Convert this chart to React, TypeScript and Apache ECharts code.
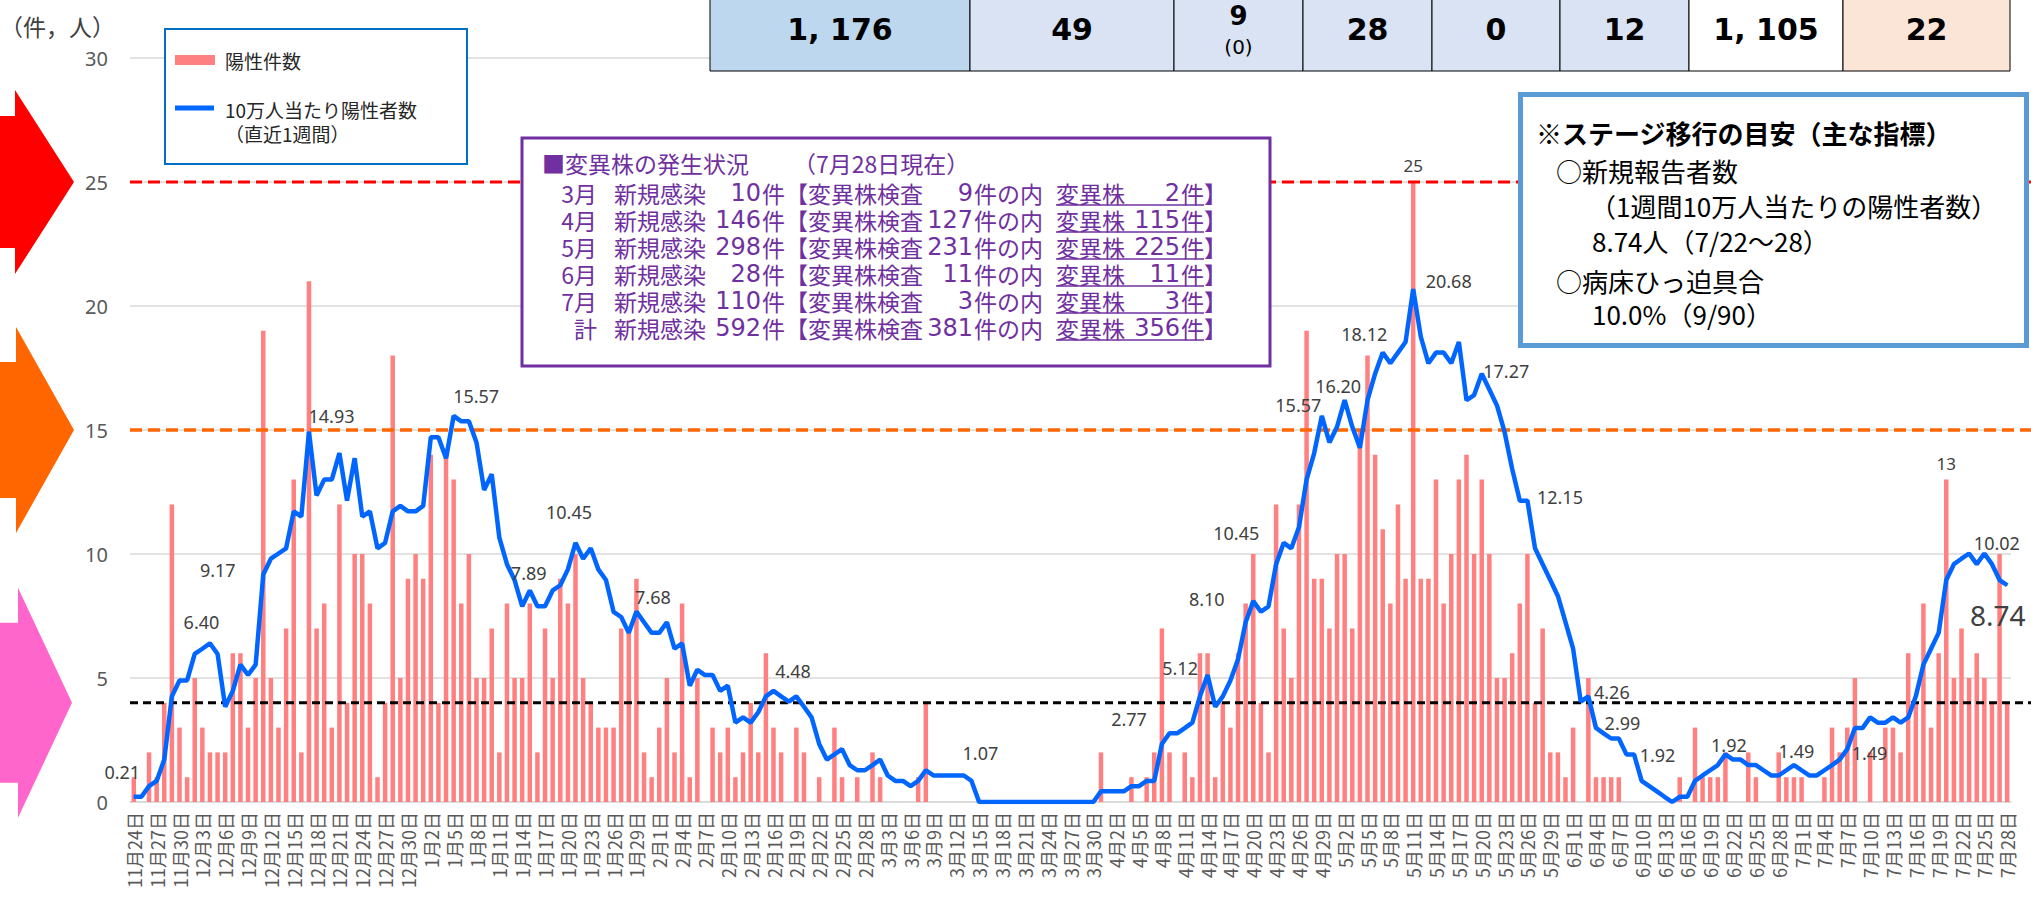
import React, { useEffect, useRef } from "react";
import * as echarts from "echarts";

// ---------- categories ----------
const MONTH_SPANS: number[][] = [
  [11, 24, 30], [12, 1, 31], [1, 1, 31], [2, 1, 28], [3, 1, 31],
  [4, 1, 30], [5, 1, 31], [6, 1, 30], [7, 1, 28],
];
const categories: string[] = MONTH_SPANS.flatMap(([m, a, b]) =>
  Array.from({ length: b - a + 1 }, (_, k) => `${m}月${a + k}日`)
);

// ---------- 陽性件数 (daily cases) ----------
const casesNov = [1, 0, 2, 1, 4, 12, 3];
const casesDec = [1, 5, 3, 2, 2, 2, 6, 6, 3, 5, 19, 5, 3, 7, 13, 2, 21, 7, 8, 3, 12, 4, 10, 10, 8, 1, 4, 18, 5, 9, 10];
const casesJan = [9, 14, 4, 14, 13, 8, 10, 5, 5, 7, 2, 8, 5, 5, 8, 2, 7, 5, 9, 8, 10, 5, 4, 3, 3, 3, 7, 7, 9, 2, 1];
const casesFeb = [3, 5, 2, 8, 1, 5, 0, 3, 2, 3, 1, 2, 4, 2, 6, 3, 2, 0, 3, 2, 0, 1, 0, 3, 1, 0, 1, 0];
const casesMar = [2, 1, 0, 0, 0, 0, 1, 4, 0, 0, 0, 0, 0, 0, 0, 0, 0, 0, 0, 0, 0, 0, 0, 0, 0, 0, 0, 0, 0, 0, 2];
const casesApr = [0, 0, 0, 1, 0, 1, 2, 7, 2, 0, 2, 1, 6, 6, 1, 4, 3, 6, 8, 10, 4, 2, 12, 7, 5, 12, 19, 9, 9, 7];
const casesMay = [10, 10, 7, 15, 18, 14, 11, 8, 12, 9, 25, 9, 9, 13, 8, 10, 13, 14, 10, 13, 10, 5, 5, 6, 8, 10, 4, 7, 2, 2, 1];
const casesJun = [3, 0, 5, 1, 1, 1, 1, 0, 0, 0, 0, 0, 0, 0, 1, 0, 3, 1, 1, 1, 2, 0, 0, 2, 1, 0, 0, 2, 1, 1];
const casesJul = [1, 0, 0, 1, 3, 2, 3, 5, 0, 2, 0, 3, 3, 2, 6, 4, 8, 3, 6, 13, 5, 7, 5, 6, 5, 4, 10, 4];

// ---------- 10万人当たり陽性者数（直近1週間） ----------
const rateNov = [0.21, 0.21, 0.64, 0.85, 1.71, 4.26, 4.90];
const rateDec = [4.90, 5.97, 6.18, 6.40, 5.97, 3.84, 4.48, 5.54, 5.12, 5.54, 9.17, 9.81, 10.02, 10.23, 11.72, 11.51, 14.93, 12.36, 13.00, 13.00, 14.07, 12.15, 13.86, 11.51, 11.72, 10.23, 10.45, 11.72, 11.94, 11.72, 11.72];
const rateJan = [11.94, 14.71, 14.71, 13.86, 15.57, 15.35, 15.35, 14.50, 12.58, 13.22, 10.66, 9.59, 8.95, 7.89, 8.53, 7.89, 7.89, 8.53, 8.74, 9.38, 10.45, 9.81, 10.23, 9.38, 8.95, 7.67, 7.46, 6.82, 7.68, 7.25, 6.82];
const rateFeb = [6.82, 7.25, 6.18, 6.40, 4.69, 5.33, 5.12, 5.12, 4.48, 4.69, 3.20, 3.41, 3.20, 3.62, 4.26, 4.48, 4.26, 4.05, 4.26, 3.84, 3.41, 2.34, 1.71, 1.92, 2.13, 1.49, 1.28, 1.28];
const rateMar = [1.49, 1.71, 1.07, 0.85, 0.85, 0.64, 0.85, 1.28, 1.07, 1.07, 1.07, 1.07, 1.07, 0.85, 0, 0, 0, 0, 0, 0, 0, 0, 0, 0, 0, 0, 0, 0, 0, 0, 0.43];
const rateApr = [0.43, 0.43, 0.43, 0.64, 0.64, 0.85, 0.85, 2.34, 2.77, 2.77, 2.98, 3.20, 4.26, 5.12, 3.84, 4.26, 4.90, 5.76, 7.25, 8.10, 7.67, 7.89, 9.59, 10.45, 10.23, 11.08, 13.00, 14.07, 15.57, 14.50];
const rateMay = [15.13, 16.20, 15.13, 14.28, 16.20, 17.27, 18.12, 17.69, 18.12, 18.55, 20.68, 18.76, 17.69, 18.12, 18.12, 17.69, 18.55, 16.20, 16.41, 17.27, 16.63, 15.99, 14.92, 13.43, 12.15, 12.15, 10.23, 9.59, 8.95, 8.31, 7.25];
const rateJun = [6.18, 4.05, 4.26, 2.99, 2.77, 2.56, 2.56, 1.92, 1.92, 0.85, 0.64, 0.43, 0.21, 0, 0.21, 0.21, 0.85, 1.07, 1.28, 1.49, 1.92, 1.71, 1.71, 1.49, 1.49, 1.28, 1.07, 1.07, 1.28, 1.49];
const rateJul = [1.28, 1.07, 1.07, 1.28, 1.49, 1.71, 2.13, 2.98, 2.98, 3.41, 3.20, 3.20, 3.41, 3.20, 3.41, 4.26, 5.54, 6.18, 6.82, 8.95, 9.59, 9.81, 10.02, 9.59, 10.02, 9.59, 8.95, 8.74];

const cases = [...casesNov, ...casesDec, ...casesJan, ...casesFeb, ...casesMar, ...casesApr, ...casesMay, ...casesJun, ...casesJul];
const rates = [...rateNov, ...rateDec, ...rateJan, ...rateFeb, ...rateMar, ...rateApr, ...rateMay, ...rateJun, ...rateJul];

// stage thresholds
const STAGE_LEVELS = [25, 15, 4];

// labelled points (index -> label offset in px)
const RATE_LABEL_OFFSETS: Record<number, number[]> = {
  0: [-11, -24], 10: [-8, -21], 17: [-45, -4], 23: [23, -15], 42: [23, -19],
  51: [7, -33], 58: [-6, -30], 66: [17, -14], 84: [20, -19], 109: [17, -22],
  136: [-40, -14], 141: [-27, -7], 147: [-46, -2], 151: [-47, -9], 156: [-23, -10],
  159: [-6, -14], 164: [-18, -18], 168: [36, -8], 177: [25, -2], 183: [33, -3],
  191: [24, -4], 192: [27, -4], 197: [24, 1], 209: [4, -9], 218: [3, -14],
  223: [38, -12], 243: [13, -10], 246: [-9, 30],
};
const BAR_LABEL_IDX = [168, 238];

// table at top
const TABLE_VALUES = ["1, 176", "49", "9", "28", "0", "12", "1, 105", "22"];
const TABLE_SUB = ["", "", "(0)", "", "", "", "", ""];

// variant box
const VARIANT_TITLE = "■変異株の発生状況";
const VARIANT_DATE = "（7月28日現在）";
const VARIANT_MONTHS = ["3月", "4月", "5月", "6月", "7月", "計"];
const VARIANT_NEW = ["10", "146", "298", "28", "110", "592"];
const VARIANT_TESTED = ["9", "127", "231", "11", "3", "381"];
const VARIANT_FOUND = ["2", "115", "225", "11", "3", "356"];

// stage box
const STAGE_TITLE = "※ステージ移行の目安（主な指標）";
const STAGE_LINES = [
  "○新規報告者数",
  "（1週間10万人当たりの陽性者数）",
  "8.74人（7/22～28）",
  "○病床ひっ迫具合",
  "10.0%（9/90）",
];

const JP = '"Noto Sans CJK JP", "Noto Sans", sans-serif';
const NUM = '"Noto Sans", "DejaVu Sans", sans-serif';

export default function App() {
  const ref = useRef<HTMLDivElement>(null);

  useEffect(() => {
    if (!ref.current) return;
    const chart = echarts.init(ref.current, null, { renderer: "svg" });

    const barData = cases.map((v, i) =>
      BAR_LABEL_IDX.includes(i) ? { value: v, label: { show: true } } : v
    );
    const lineData = rates.map((v, i) => {
      const off = RATE_LABEL_OFFSETS[i];
      if (!off) return v;
      const big = i === 246;
      return {
        value: v,
        label: {
          show: true,
          position: off,
          align: "center",
          verticalAlign: "middle",
          fontSize: big ? 28 : 18,
          color: "#404040",
          fontFamily: NUM,
          formatter: (p: any) => Number(p.value).toFixed(2),
        },
      };
    });

    chart.setOption({
      animation: false,
      grid: { left: 130, right: 20, top: 58, bottom: 96, containLabel: false },
      xAxis: {
        type: "category",
        data: categories,
        boundaryGap: true,
        axisLine: { lineStyle: { color: "#D9D9D9", width: 1.5 } },
        axisTick: { show: false },
        axisLabel: {
          interval: 2,
          rotate: 90,
          fontSize: 18,
          color: "#595959",
          margin: 10,
          fontFamily: JP,
        },
      },
      yAxis: {
        type: "value",
        min: 0,
        max: 30,
        interval: 5,
        axisLine: { show: false },
        axisTick: { show: false },
        axisLabel: { fontSize: 20, color: "#595959", margin: 22, fontFamily: NUM },
        splitLine: { lineStyle: { color: "#D9D9D9", width: 1.5 } },
      },
      series: [
        {
          name: "陽性件数",
          type: "bar",
          data: barData,
          barWidth: 4.5,
          z: 1,
          itemStyle: { color: "#FF8080" },
          label: {
            show: false,
            position: "top",
            distance: 8,
            fontSize: 17,
            color: "#404040",
            fontFamily: NUM,
          },
        },
        {
          name: "10万人当たり陽性者数",
          type: "line",
          data: lineData,
          z: 3,
          symbol: "circle",
          symbolSize: 1,
          showSymbol: true,
          itemStyle: { color: "#0066FF" },
          lineStyle: { color: "#0066FF", width: 4.5 },
          label: { show: false },
        },
      ],
    });

    const yPx = (v: number) => chart.convertToPixel({ yAxisIndex: 0 }, v) as number;
    const els: any[] = [];

    // dashed stage lines
    const dashColors = ["#FF0000", "#FF6600", "#000000"];
    const dashWidths = [3, 3.5, 3];
    const dashPatterns = [[12, 6], [12, 6], [8, 5]];
    STAGE_LEVELS.forEach((lv, k) => {
      const y = yPx(lv);
      els.push({
        type: "line",
        z: 2,
        shape: { x1: 130, y1: y, x2: 2031, y2: y },
        style: { stroke: dashColors[k], lineWidth: dashWidths[k], lineDash: dashPatterns[k] },
      });
    });

    // arrows
    const arrowColors = ["#FF0000", "#FF6600", "#FF66CC"];
    const headHalf = [92, 103, 115];
    const bodyHalf = [66, 68, 80];
    const neckX = [15, 16, 18];
    const tipX = [74, 74, 72];
    STAGE_LEVELS.forEach((lv, k) => {
      const yc = yPx(lv);
      els.push({
        type: "polygon",
        z: 10,
        shape: {
          points: [
            [0, yc - bodyHalf[k]], [neckX[k], yc - bodyHalf[k]], [neckX[k], yc - headHalf[k]],
            [tipX[k], yc], [neckX[k], yc + headHalf[k]], [neckX[k], yc + bodyHalf[k]], [0, yc + bodyHalf[k]],
          ],
        },
        style: { fill: arrowColors[k] },
      });
    });

    // unit label
    els.push({
      type: "text", z: 11, x: 0, y: 26,
      style: { text: "（件，人）", font: `23px ${JP}`, fill: "#404040", textVerticalAlign: "middle" },
    });

    // legend box
    els.push({
      type: "rect", z: 10,
      shape: { x: 165, y: 29, width: 302, height: 135 },
      style: { fill: "#FFFFFF", stroke: "#0070C0", lineWidth: 2 },
    });
    els.push({ type: "rect", z: 11, shape: { x: 175, y: 55, width: 40, height: 10 }, style: { fill: "#FF8080" } });
    const legText = (text: string, y: number) =>
      els.push({ type: "text", z: 11, x: 225, y, style: { text, font: `19px ${JP}`, lineHeight: 21, fill: "#262626", textVerticalAlign: "middle" } });
    legText("陽性件数", 60);
    els.push({ type: "line", z: 11, shape: { x1: 175, y1: 108, x2: 214, y2: 108 }, style: { stroke: "#0066FF", lineWidth: 5 } });
    legText("10万人当たり陽性者数", 109);
    legText("（直近1週間）", 133);

    // top table
    const tableX = [710, 970, 1174, 1303, 1432, 1560, 1689, 1843, 2010];
    const tableFill = ["#BDD7EE", "#DAE3F3", "#DAE3F3", "#DAE3F3", "#DAE3F3", "#DAE3F3", "#FFFFFF", "#FBE5D6"];
    TABLE_VALUES.forEach((val, k) => {
      const x0 = tableX[k];
      const x1 = tableX[k + 1];
      els.push({
        type: "rect", z: 10,
        shape: { x: x0, y: -10, width: x1 - x0, height: 81 },
        style: { fill: tableFill[k], stroke: "#000000", lineWidth: 1 },
      });
      const hasSub = TABLE_SUB[k] !== "";
      els.push({
        type: "text", z: 11, x: (x0 + x1) / 2, y: hasSub ? 16 : 29,
        style: { text: val, font: `bold ${hasSub ? 26 : 30}px "DejaVu Sans", sans-serif`, lineHeight: 28, fill: "#000000", textAlign: "center", textVerticalAlign: "middle" },
      });
      if (hasSub) {
        els.push({
          type: "text", z: 11, x: (x0 + x1) / 2, y: 47,
          style: { text: TABLE_SUB[k], font: `20px "DejaVu Sans", sans-serif`, lineHeight: 20, fill: "#000000", textAlign: "center", textVerticalAlign: "middle" },
        });
      }
    });

    // variant box
    const purple = "#7030A0";
    els.push({
      type: "rect", z: 10,
      shape: { x: 522, y: 138, width: 748, height: 228 },
      style: { fill: "#FFFFFF", stroke: purple, lineWidth: 3 },
    });
    const vFont = `23px ${JP}`;
    const vNum = `24px "DejaVu Sans", sans-serif`;
    els.push({ type: "text", z: 11, x: 542, y: 163, style: { text: VARIANT_TITLE, font: vFont, lineHeight: 24, fill: purple, textVerticalAlign: "middle" } });
    els.push({ type: "text", z: 11, x: 793, y: 163, style: { text: VARIANT_DATE, font: vFont, lineHeight: 24, fill: purple, textVerticalAlign: "middle" } });
    const rowY = [193, 220, 247, 274, 301, 328];
    VARIANT_MONTHS.forEach((mo, r) => {
      const y = rowY[r];
      const t = (text: string, x: number, align: string, font: string) =>
        els.push({ type: "text", z: 11, x, y, style: { text, font, lineHeight: 24, fill: purple, textAlign: align, textVerticalAlign: "middle" } });
      t(mo, 597, "right", vFont);
      t("新規感染", 614, "left", vFont);
      t(VARIANT_NEW[r], 761, "right", vNum);
      t("件【変異株検査", 762, "left", vFont);
      t(VARIANT_TESTED[r], 973, "right", vNum);
      t("件の内", 974, "left", vFont);
      t("変異株", 1056, "left", vFont);
      t(VARIANT_FOUND[r], 1180, "right", vNum);
      t("件】", 1181, "left", vFont);
      els.push({ type: "line", z: 11, shape: { x1: 1056, y1: y + 12, x2: 1204, y2: y + 12 }, style: { stroke: purple, lineWidth: 1.5 } });
    });

    // stage box
    els.push({
      type: "rect", z: 10,
      shape: { x: 1520.5, y: 94.5, width: 506, height: 251 },
      style: { fill: "#FFFFFF", stroke: "#5B9BD5", lineWidth: 5 },
    });
    els.push({ type: "text", z: 11, x: 1536, y: 132, style: { text: STAGE_TITLE, font: `bold 26px ${JP}`, lineHeight: 30, fill: "#000000", textVerticalAlign: "middle" } });
    const sX = [1556, 1590, 1592, 1556, 1592];
    const sY = [170, 205, 240, 280, 313];
    STAGE_LINES.forEach((s, k) => {
      els.push({ type: "text", z: 11, x: sX[k], y: sY[k], style: { text: s, font: `26px ${JP}`, lineHeight: 30, fill: "#000000", textVerticalAlign: "middle" } });
    });

    chart.setOption({ graphic: { elements: els } });

    return () => chart.dispose();
  }, []);

  return (
    <div
      ref={ref}
      style={{ position: "fixed", left: 0, top: 0, width: 2031, height: 898, background: "#FFFFFF" }}
    />
  );
}
